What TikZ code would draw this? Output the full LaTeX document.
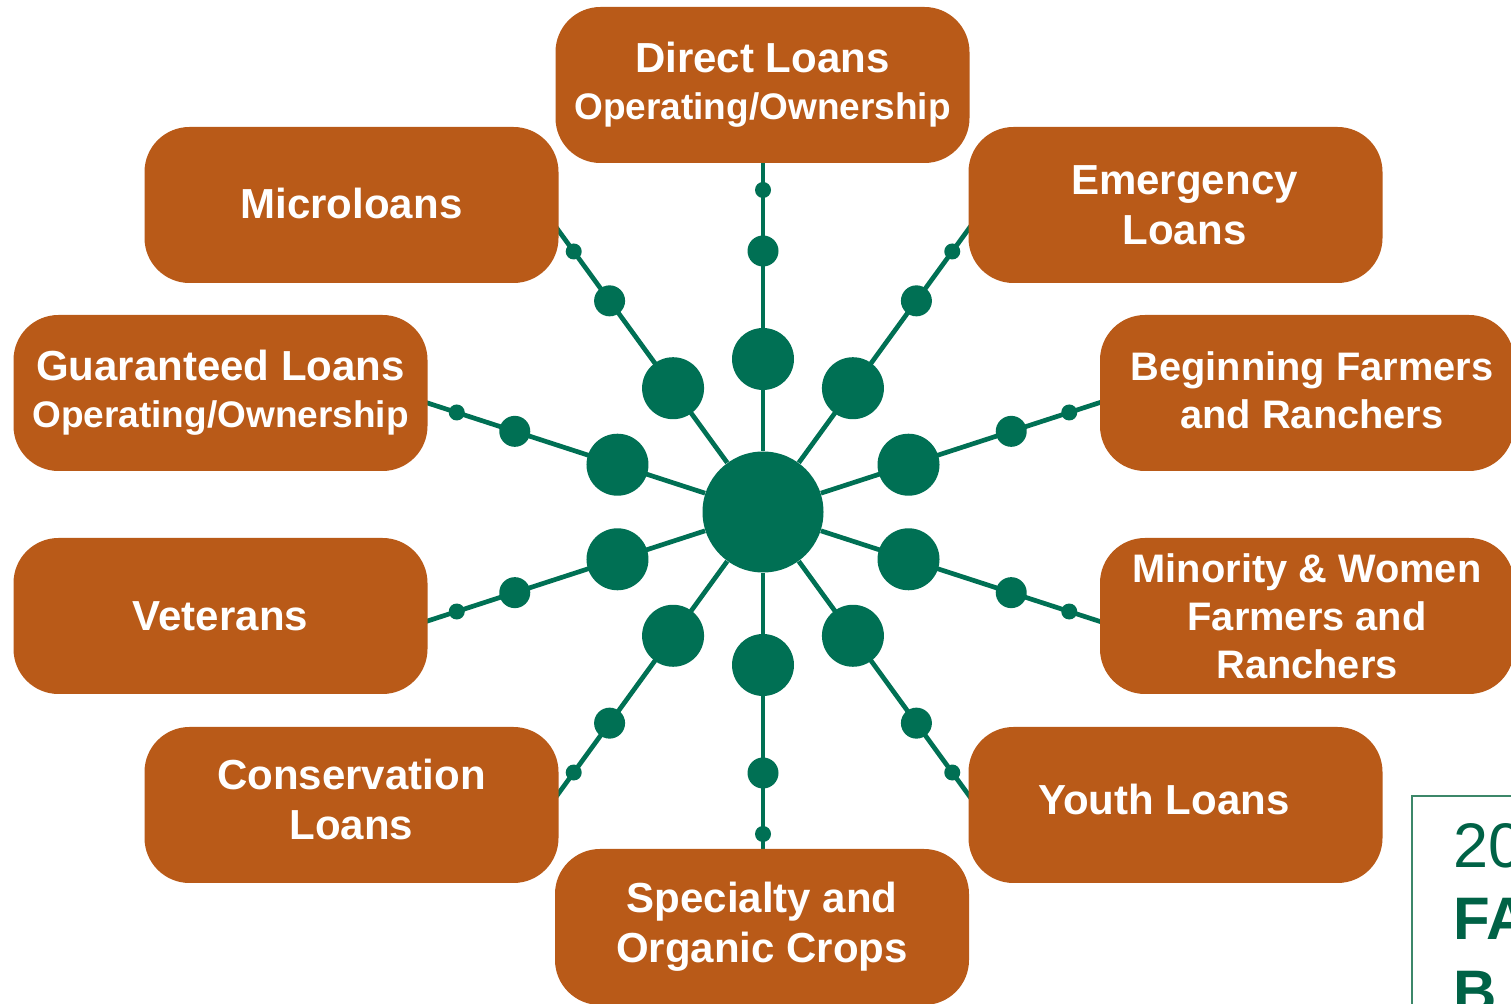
\documentclass[tikz,border=0pt]{standalone}
\usepackage{fontspec}
\setmainfont{Liberation Sans}
\usepackage{xcolor}
\usepackage{tikz}
\usetikzlibrary{positioning,calc}
\definecolor{loanOrange}{RGB}{185,90,24}
\definecolor{hubGreen}{RGB}{0,112,84}
\definecolor{frameGreen}{RGB}{60,135,105}
\definecolor{titleGreen}{RGB}{0,98,70}
\tikzset{
  loanBox/.style={
    rectangle,
    rounded corners=22.5pt,
    fill=loanOrange,
    text=white,
    font=\bfseries\fontsize{21}{25.2}\selectfont,
    minimum width=207pt,
    minimum height=78pt,
    inner sep=0pt,
    align=center
  },
  narrowText/.style={
    font=\bfseries\fontsize{19.9}{23.9}\selectfont
  },
  spokeLine/.style={
    draw=hubGreen,
    line width=2.35pt
  },
  hubDot/.style={
    circle,
    fill=hubGreen,
    inner sep=0pt,
    minimum size=60.5pt
  },
  bigDot/.style={hubDot, minimum size=31pt},
  midDot/.style={hubDot, minimum size=15.5pt},
  tinyDot/.style={hubDot, minimum size=8pt},
  insetFrame/.style={
    rectangle,
    draw=frameGreen,
    line width=0.8pt,
    anchor=north west,
    minimum width=150pt,
    minimum height=150pt
  },
  insetText/.style={
    text=titleGreen,
    anchor=base west,
    inner sep=0pt
  }
}
\newcommand{\subLine}[1]{{\fontsize{18.5}{22.2}\selectfont #1}}

\begin{document}
\begin{tikzpicture}[x=0.5pt,y=-0.5pt]
        \useasboundingbox[fill=white] (0,0) rectangle (1511,1004);

        \node[hubDot] (hub) at (763,512) {};

        % spokes with their dots
        \foreach \a [count=\i] in {18,54,...,342} {
            \coordinate (tip\i) at ([shift={(\a:360)}]hub);
            \draw[spokeLine] (hub) -- (tip\i);
            \node[bigDot] (big\i) at ([shift={(\a:153)}]hub) {};
            \node[midDot] (mid\i) at ([shift={(\a:261)}]hub) {};
            \node[tinyDot] (tiny\i) at ([shift={(\a:322)}]hub) {};
        }

        \node[loanBox] (direct) at (762.5,85) {Direct Loans\\[-1.5pt]\subLine{Operating/Ownership}};
        \node[loanBox, text depth=2pt] (micro) at (351.5,205) {Microloans};
        \node[loanBox] (emergency) at (1175.5,205) {\makebox[9pt]{}Emergency\\\makebox[9pt]{}Loans};
        \node[loanBox] (guaranteed) at (220.5,393) {Guaranteed Loans\\[-1.5pt]\subLine{Operating/Ownership}};
        \node[loanBox, narrowText, text depth=3pt] (beginning) at (1307,393) {\makebox[5pt]{}Beginning Farmers\\\makebox[5pt]{}and Ranchers};
        \node[loanBox] (veterans) at (220.5,616) {Veterans};
        \node[loanBox, narrowText] (minority) at (1307,616) {Minority \& Women\\Farmers and\\Ranchers};
        \node[loanBox, text depth=6pt] (conservation) at (351.5,805) {Conservation\\Loans};
        \node[loanBox, text depth=6pt] (youth) at (1175.5,805) {Youth Loans\makebox[11.5pt]{}};
        \node[loanBox] (specialty) at (762,927) {Specialty and\\Organic Crops};

        % inset at the corner
        \node[insetFrame] (inset) at (1411,795) {};
        \node[insetText, font=\fontsize{31.5}{37.8}\selectfont] (year) at (1453,868) {20};
        \node[insetText, font=\bfseries\fontsize{30}{36}\selectfont] (farm) at (1453,940) {FA};
        \node[insetText, font=\bfseries\fontsize{30}{36}\selectfont] (bill) at (1453,1013) {B};
    \end{tikzpicture}
\end{document}
